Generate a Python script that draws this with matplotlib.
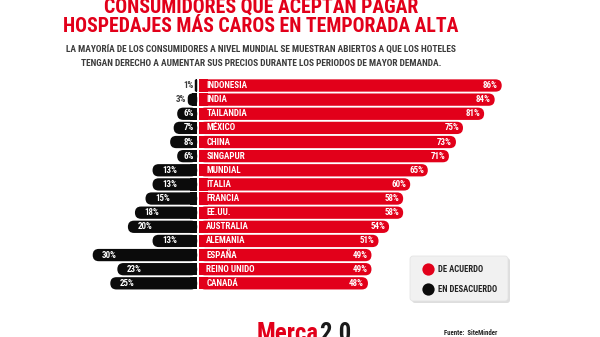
import matplotlib
matplotlib.use("Agg")
import matplotlib.pyplot as plt
from matplotlib import font_manager
from matplotlib.patches import FancyBboxPatch, Rectangle

# prefer a narrow face for the condensed headline look
installed = {f.name for f in font_manager.fontManager.ttflist}
candidates = ["Roboto Condensed", "Open Sans Condensed", "DejaVu Sans Condensed",
              "Liberation Sans Narrow", "Noto Sans Display", "Roboto", "Liberation Sans"]
family = [c for c in candidates if c in installed][:1] + ["DejaVu Sans"]
plt.rcParams['font.family'] = family
COND = "condensed"

# ---- data -------------------------------------------------------------
countries = ["INDONESIA", "INDIA", "TAILANDIA", "MÉXICO", "CHINA", "SINGAPUR",
             "MUNDIAL", "ITALIA", "FRANCIA", "EE.UU.", "AUSTRALIA", "ALEMANIA",
             "ESPAÑA", "REINO UNIDO", "CANADÁ"]
agree = [86, 84, 81, 75, 73, 71, 65, 60, 58, 58, 54, 51, 49, 49, 48]
disagree = [1, 3, 6, 7, 8, 6, 13, 13, 15, 18, 20, 13, 30, 23, 25]

title_lines = ["CONSUMIDORES QUE ACEPTAN PAGAR",
               "HOSPEDAJES MÁS CAROS EN TEMPORADA ALTA"]
subtitle_lines = ["LA MAYORÍA DE LOS CONSUMIDORES A NIVEL MUNDIAL SE MUESTRAN ABIERTOS A QUE LOS HOTELES",
                  "TENGAN DERECHO A AUMENTAR SUS PRECIOS DURANTE LOS PERIODOS DE MAYOR DEMANDA."]
legend_labels = ["DE ACUERDO", "EN DESACUERDO"]
source_text = "Fuente:  SiteMinder"

RED = "#e2001a"
BLACK = "#0b0b0b"
GREY_TXT = "#3c3c3c"

W, H = 600, 337
fig = plt.figure(figsize=(W / 100, H / 100), dpi=100)
fig.patch.set_facecolor("white")
renderer = fig.canvas.get_renderer()


def fit_width(t, target_px):
    """Scale a text's font size so that its rendered width equals target_px."""
    w = t.get_window_extent(renderer).width
    t.set_fontsize(t.get_fontsize() * target_px / w)
    return t


# pixel-space overlay for headings, legend and footer
bg = fig.add_axes([0, 0, 1, 1])
bg.set_xlim(0, W)
bg.set_ylim(H, 0)
bg.axis("off")

# bar axes: diverging around the centre line
ax = fig.add_axes([0, 0, 1, 1], zorder=2)
ax.patch.set_alpha(0)
cx, px_per_pct = 199.0, 3.52
row0, row_px = 85.5, 14.13
ax.set_xlim(-cx / px_per_pct, (W - cx) / px_per_pct)
ax.set_ylim((H - row0) / row_px, -row0 / row_px)
ax.axis("off")

bar_h = 0.87
aspect = px_per_pct / row_px
r_full = bar_h / aspect / 2


def rounded(x0, x1, y, color):
    w = x1 - x0
    r = min(r_full, w / 2)
    p = FancyBboxPatch((x0, y - bar_h / 2), w, bar_h,
                       boxstyle=f"round,pad=0,rounding_size={r}",
                       mutation_aspect=aspect, fc=color, ec="none", lw=0)
    ax.add_patch(p)


LBL = dict(fontweight="bold", fontstretch=COND)

# bar label size: "INDONESIA" is ~40 px wide
probe = ax.text(0, 0, countries[0], fontsize=6.3, **LBL)
fit_width(probe, 40.5)
lbl_size = probe.get_fontsize()
probe.remove()

for i, (name, a, d) in enumerate(zip(countries, agree, disagree)):
    # agree bar, square at the centre, round at the tip
    rounded(0, a, i, RED)
    ax.add_patch(Rectangle((0, i - bar_h / 2), min(2.5, a), bar_h, fc=RED, ec="none", lw=0))
    ax.text(2.1, i, name, color="white", fontsize=lbl_size, ha="left", va="center", **LBL)
    ax.text(a - 1.1, i, f"{a}%", color="white", fontsize=lbl_size, ha="right",
            va="center", **LBL)

    # disagree bar, round on the left
    left, right = -d - 0.2, -0.5
    rounded(left, right, i, BLACK)
    ax.add_patch(Rectangle((right - min(2.0, (right - left) / 2), i - bar_h / 2),
                           min(2.0, (right - left) / 2), bar_h, fc=BLACK, ec="none", lw=0))
    if d <= 3:
        ax.text(left - 0.4, i, f"{d}%", color=GREY_TXT, fontsize=lbl_size,
                ha="right", va="center", **LBL)
    elif d <= 8:
        ax.text(-1.5, i, f"{d}%", color="white", fontsize=lbl_size,
                ha="right", va="center", **LBL)
    else:
        ax.text(left + 2.7, i, f"{d}%", color="white", fontsize=lbl_size,
                ha="left", va="center", **LBL)

# headings
tx = 261
t1 = bg.text(tx, 13, title_lines[0], color=RED, fontsize=14, ha="center",
             va="baseline", **LBL)
t2 = bg.text(tx, 32, title_lines[1], color=RED, fontsize=14, ha="center",
             va="baseline", **LBL)
fit_width(t2, 397)
t1.set_fontsize(t2.get_fontsize())
s1 = bg.text(tx, 53, subtitle_lines[0], color=GREY_TXT, fontsize=6.6, ha="center",
             va="baseline", **LBL)
s2 = bg.text(tx, 66, subtitle_lines[1], color=GREY_TXT, fontsize=6.6, ha="center",
             va="baseline", **LBL)
fit_width(s1, 389)
s2.set_fontsize(s1.get_fontsize())

# legend box with a soft shadow
bg.add_patch(FancyBboxPatch((412, 258), 98, 45, boxstyle="round,pad=0,rounding_size=3",
                            fc="#c8c8c8", ec="none", alpha=0.6))
bg.add_patch(FancyBboxPatch((410, 256), 98, 45, boxstyle="round,pad=0,rounding_size=3",
                            fc="#f1f1f1", ec="#e2e2e2", lw=0.5))
leg_texts = []
for k, (lab, col) in enumerate(zip(legend_labels, [RED, BLACK])):
    y = 269 + 20 * k
    bg.scatter([428], [y], s=78, color=col, zorder=3, linewidths=0)
    leg_texts.append(bg.text(438, y, lab, color="#222222", fontsize=6.5, ha="left",
                             va="center", **LBL))
fit_width(leg_texts[1], 59)
leg_texts[0].set_fontsize(leg_texts[1].get_fontsize())

# footer
src = bg.text(444, 333, source_text, color="#222222", fontsize=5.2, ha="left",
              va="center", **LBL)
fit_width(src, 53)
m = bg.text(257, 341, "Merca", color=RED, fontsize=17, ha="left", va="baseline",
            fontweight="heavy", fontstretch=COND)
fit_width(m, 62)
bb = m.get_window_extent(renderer)
x_end = bg.transData.inverted().transform((bb.x1, bb.y0))[0]
bg.text(x_end, 341, "2.0", color="#1a1a1a", fontsize=m.get_fontsize(), ha="left",
        va="baseline", fontweight="heavy", fontstretch=COND)

fig.savefig("out.png", dpi=100, facecolor="white")
